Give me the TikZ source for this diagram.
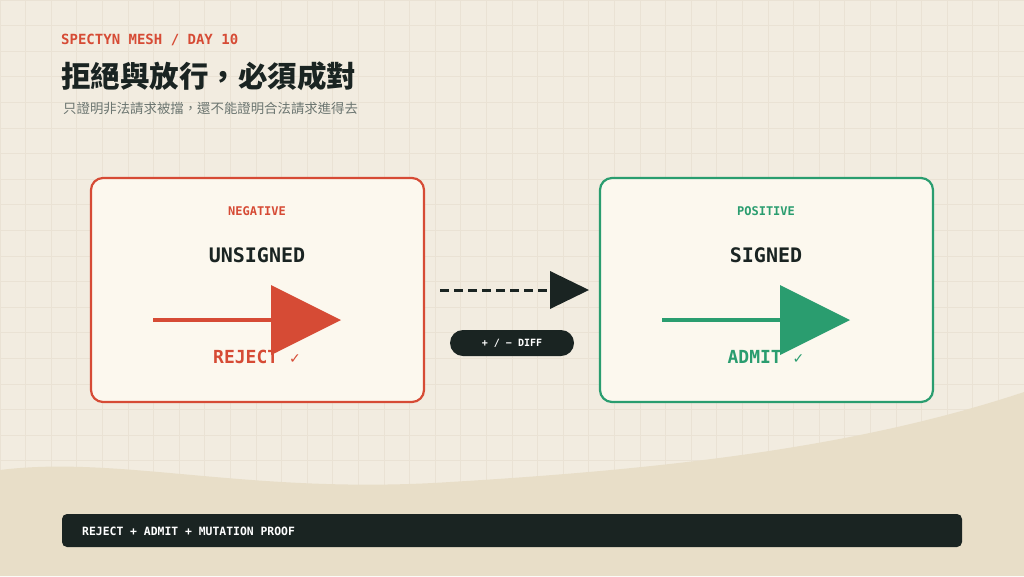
\documentclass[tikz,border=0pt]{standalone}
\usepackage{fontspec}
\setmonofont{DejaVu Sans Mono}
\newfontfamily\cjk{Noto Sans CJK TC}
\newfontfamily\sym{DejaVu Sans}
\definecolor{bg}{HTML}{F2ECE0}
\definecolor{wave}{HTML}{E8DEC8}
\definecolor{gridc}{HTML}{EAE2D4}
\definecolor{card}{HTML}{FCF8EE}
\definecolor{redc}{HTML}{D64B35}
\definecolor{greenc}{HTML}{2A9D6F}
\definecolor{dark}{HTML}{1A2422}
\definecolor{greyc}{HTML}{6B7570}
\begin{document}
\begin{tikzpicture}[x=1pt,y=-1pt,
 card/.style={draw=#1,line width=2.2pt,fill=card,rounded corners=12pt,minimum width=333pt,minimum height=224pt},
 pill/.style={fill=dark,text=white,rounded corners=13pt,font=\ttfamily\bfseries\fontsize{10}{12}\selectfont}]
\useasboundingbox (0,0) rectangle (1024,576);
\fill[bg] (0,0) rectangle (1024,576);
\foreach \i in {0,...,40} \draw[gridc,line width=0.8pt] (\i*25.6,0) -- (\i*25.6,576);
\foreach \j in {0,...,23} \draw[gridc,line width=0.8pt] (0,\j*25.6) -- (1024,\j*25.6);
\fill[wave] (0,470) .. controls (120,455) and (250,495) .. (450,482) .. controls (650,470) and (850,450) .. (1024,392) -- (1024,576) -- (0,576) -- cycle;
% header
\node[anchor=west,inner sep=0pt,text=redc,font=\ttfamily\bfseries\fontsize{14}{16}\selectfont] (kicker) at (61,40) {SPECTYN MESH / DAY 10};
\node[anchor=west,inner sep=0pt,text=dark,font=\cjk\bfseries\fontsize{29.5}{33}\selectfont] (title) at (61,76) {拒絕與放行，必須成對};
\node[anchor=west,inner sep=0pt,text=greyc,font=\cjk\fontsize{13.4}{15}\selectfont] (sub) at (63,108) {只證明非法請求被擋，還不能證明合法請求進得去};
% cards
\node[card=redc] (neg) at (257.5,290) {};
\node[card=greenc] (pos) at (766.5,290) {};
\node[text=redc,font=\ttfamily\bfseries\fontsize{12}{14}\selectfont] (negl) at (257,211) {NEGATIVE};
\node[text=dark,font=\ttfamily\bfseries\fontsize{20}{24}\selectfont] (negt) at (257,255) {UNSIGNED};
\node[text=greenc,font=\ttfamily\bfseries\fontsize{12}{14}\selectfont] (posl) at (766,211) {POSITIVE};
\node[text=dark,font=\ttfamily\bfseries\fontsize{20}{24}\selectfont] (post) at (766,255) {SIGNED};
% arrows inside
\coordinate (ra) at (153,320); \coordinate (rb) at (275,320);
\draw[redc,line width=4pt] (ra) -- (rb);
\fill[redc] (271,285) -- (341,320) -- (271,355) -- cycle;
\coordinate (ga) at (662,320); \coordinate (gb) at (784,320);
\draw[greenc,line width=4pt] (ga) -- (gb);
\fill[greenc] (780,285) -- (850,320) -- (780,355) -- cycle;
\node[text=redc,font=\ttfamily\bfseries\fontsize{18}{20}\selectfont] (rej) at (257,357) {REJECT {\sym\fontsize{14}{16}\selectfont ✓}};
\node[text=greenc,font=\ttfamily\bfseries\fontsize{18}{20}\selectfont] (adm) at (766,357) {ADMIT {\sym\fontsize{14}{16}\selectfont ✓}};
% middle
\coordinate (da) at (440,290); \coordinate (db) at (552,290);
\draw[dark,line width=3pt,dash pattern=on 9pt off 5pt] (da) -- (db);
\fill[dark] (550,271) -- (589,290) -- (550,309) -- cycle;
\node[pill,minimum width=124pt,minimum height=26pt] (diff) at (512,343) {+ / − DIFF};
% bottom bar
\fill[dark,rounded corners=5pt] (62,514) rectangle (962,547);
\node[anchor=west,inner sep=0pt,text=white,font=\ttfamily\bfseries\fontsize{11.4}{13}\selectfont] (foot) at (82,531) {REJECT + ADMIT + MUTATION PROOF};
\end{tikzpicture}
\end{document}
